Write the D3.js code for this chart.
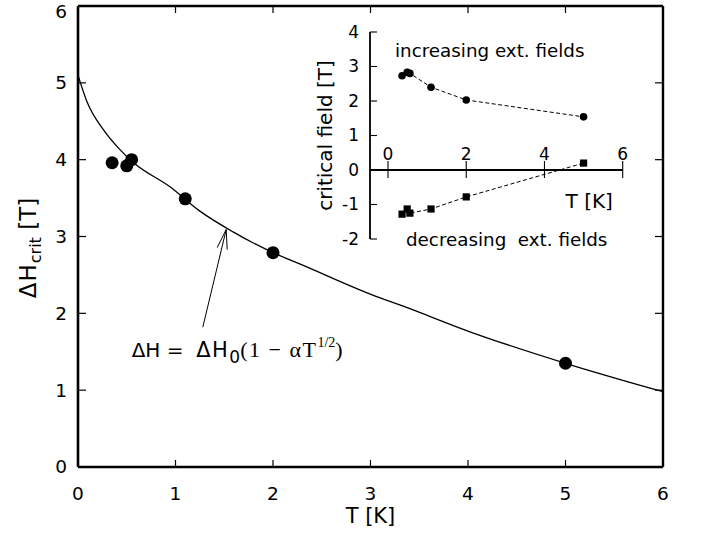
<!DOCTYPE html>
<html>
<head>
<meta charset="utf-8">
<script src="https://cdn.jsdelivr.net/npm/d3@7"></script>
<style>
  body { margin: 0; background: #fff; }
  svg { display: block; }
  .lbl { font-family: "DejaVu Sans", sans-serif; fill: #000; }
  .serif { font-family: "Liberation Serif", "Times New Roman", serif; }
</style>
</head>
<body>
<svg id="chart" width="701" height="539"></svg>
<script>

// Main panel: measured critical field difference
var mainT  = [0.35, 0.50, 0.55, 1.10, 2.00, 5.00];
var mainDH = [3.96, 3.92, 4.00, 3.49, 2.79, 1.35];

// Fit curve dH = dH0 (1 - a T^1/2)
var fitT  = [0, 0.09, 0.26, 0.43, 0.58, 0.94, 1.25, 1.59, 2.00, 2.28, 3.10, 3.30, 4.02, 5.00, 6.00];
var fitDH = [5.10, 4.76, 4.39, 4.13, 3.95, 3.65, 3.33, 3.06, 2.79, 2.64, 2.20, 2.11, 1.76, 1.35, 0.98];

// Inset: critical fields for increasing / decreasing external fields
var insetT    = [0.36, 0.49, 0.56, 1.10, 2.00, 5.00];
var insetUp   = [2.73, 2.83, 2.80, 2.40, 2.03, 1.54];
var insetDown = [-1.28, -1.13, -1.25, -1.13, -0.78, 0.20];

// Tick values
var mainTicks   = [0, 1, 2, 3, 4, 5, 6];
var insetXTicks = [0, 2, 4, 6];
var insetYTicks = [-2, -1, 0, 1, 2, 3, 4];

(function(d3) {

  var svg = d3.select("#chart");

  // Scales
  var x = d3.scaleLinear().domain([0, 6]).range([78, 663]);
  var y = d3.scaleLinear().domain([0, 6]).range([467, 6]);

  var ix = d3.scaleLinear().domain([0, 6]).range([388, 622.7]);
  var iy = d3.scaleLinear().domain([-2, 4]).range([239, 32]);
  var insetAxisX = 370;

  var simpleLine = d3.line();

  function seg(p, w) {
    return svg.append("path")
      .attr("d", simpleLine(p))
      .attr("fill", "none")
      .attr("stroke", "#000")
      .attr("stroke-width", w)
      ;
  }

  //** Main frame and ticks **//

  seg([[x(0), y(0)], [x(6), y(0)]], 2.6);
  seg([[x(0), y(0)], [x(0), y(6)]], 2.6);
  seg([[x(0), y(6)], [x(6), y(6)]], 2.4);
  seg([[x(6), y(6)], [x(6), y(0)]], 2.4);

  mainTicks.slice(1, 6).forEach(function(t) {
    seg([[x(0), y(t)], [x(0) + 8, y(t)]], 1.2);
    seg([[x(6), y(t)], [x(6) - 8, y(t)]], 1.2);
    seg([[x(t), y(0)], [x(t), y(0) - 7]], 1.2);
    seg([[x(t), y(6)], [x(t), y(6) + 7]], 1.2);
  });

  // Tick labels
  svg.selectAll("text.ytick")
    .data(mainTicks)
    .enter().append("text")
    .attr("class", "lbl ytick")
    .attr("x", x(0) - 11)
    .attr("y", function(d) { return y(d); })
    // top label nudged down so it stays inside the picture
    .attr("dy", function(d) { return d === 6 ? "0.64em" : "0.35em"; })
    .attr("text-anchor", "end")
    .attr("font-size", 18.5)
    .text(function(d) { return d; })
    ;

  svg.selectAll("text.xtick")
    .data(mainTicks)
    .enter().append("text")
    .attr("class", "lbl xtick")
    .attr("x", function(d) { return x(d); })
    .attr("y", y(0) + 33)
    .attr("text-anchor", "middle")
    .attr("font-size", 18.5)
    .text(function(d) { return d; })
    ;

  // Axis titles
  svg.append("text")
    .attr("class", "lbl")
    .attr("x", x(3))
    .attr("y", 523)
    .attr("text-anchor", "middle")
    .attr("font-size", 21)
    .text("T [K]")
    ;

  var ylab = svg.append("text")
    .attr("class", "lbl")
    .attr("transform", "translate(36," + y(2.85) + ") rotate(-90)")
    .attr("text-anchor", "middle")
    .attr("font-size", 23)
    ;
  ylab.append("tspan").attr("letter-spacing", 1).text("ΔH");
  ylab.append("tspan").attr("font-size", 16).attr("dy", 5).text("crit");
  ylab.append("tspan").attr("dy", -5).text(" [T]");

  //** Main marks **//

  var fitLine = d3.line()
    .curve(d3.curveMonotoneX)
    .x(function(d) { return x(d[0]); })
    .y(function(d) { return y(d[1]); })
    ;

  svg.append("path")
    .datum(d3.zip(fitT, fitDH))
    .attr("fill", "none")
    .attr("stroke", "#000")
    .attr("stroke-width", 1.3)
    .attr("d", fitLine)
    ;

  svg.selectAll("circle.main")
    .data(d3.zip(mainT, mainDH))
    .enter().append("circle")
    .attr("class", "main")
    .attr("cx", function(d) { return x(d[0]); })
    .attr("cy", function(d) { return y(d[1]); })
    .attr("r", 6.5)
    .attr("fill", "#000")
    ;

  // Arrow pointing at the fit curve
  var tail = [1.28, 1.82], tip = [1.52, 3.09];
  seg([[x(tail[0]), y(tail[1])], [x(tip[0]), y(tip[1])]], 1);
  seg([[x(tip[0]) - 9, y(tip[1]) + 18], [x(tip[0]), y(tip[1])], [x(tip[0]) + 1, y(tip[1]) + 20]], 1);

  // Formula
  var f = svg.append("text")
    .attr("class", "lbl")
    .attr("x", x(0.55))
    .attr("y", y(1.43))
    .attr("font-size", 20)
    .attr("xml:space", "preserve")
    .style("white-space", "pre")
    ;
  f.append("tspan").text("ΔH =  ");
  f.append("tspan").attr("font-size", 21).attr("letter-spacing", 1.5).text("ΔH");
  f.append("tspan").attr("font-size", 17).attr("dy", 6).text("0");
  f.append("tspan").attr("class", "serif").attr("font-size", 22).attr("letter-spacing", 1.5)
    .attr("dy", -6).text("(1 − αT");
  f.append("tspan").attr("class", "serif").attr("font-size", 14).attr("dy", -10).text("1/2");
  f.append("tspan").attr("class", "serif").attr("font-size", 22).attr("dy", 10).text(")");

  //** Inset axes **//

  seg([[insetAxisX, iy(-2)], [insetAxisX, iy(4)]], 1.8);
  seg([[insetAxisX, iy(0)], [ix(6), iy(0)]], 1.8);

  insetYTicks.forEach(function(t) {
    seg([[insetAxisX, iy(t)], [insetAxisX + 7, iy(t)]], 1.1);
  });
  insetXTicks.forEach(function(t) {
    seg([[ix(t), iy(0) - 9], [ix(t), iy(0) + 8]], 1.1);
  });

  svg.selectAll("text.iytick")
    .data(insetYTicks)
    .enter().append("text")
    .attr("class", "lbl iytick")
    .attr("x", insetAxisX - 11)
    .attr("y", function(d) { return iy(d); })
    .attr("dy", "0.35em")
    .attr("text-anchor", "end")
    .attr("font-size", 17)
    .text(function(d) { return String(d); })
    ;

  svg.selectAll("text.ixtick")
    .data(insetXTicks)
    .enter().append("text")
    .attr("class", "lbl ixtick")
    .attr("x", function(d) { return ix(d); })
    .attr("y", iy(0) - 10)
    .attr("text-anchor", "middle")
    .attr("font-size", 17)
    .text(function(d) { return d; })
    ;

  svg.append("text")
    .attr("class", "lbl")
    .attr("transform", "translate(332," + iy(1) + ") rotate(-90)")
    .attr("text-anchor", "middle")
    .attr("font-size", 20)
    .text("critical field [T]")
    ;

  svg.append("text")
    .attr("class", "lbl")
    .attr("x", ix(4.54))
    .attr("y", iy(-1.1))
    .attr("font-size", 20)
    .text("T [K]")
    ;

  svg.append("text")
    .attr("class", "lbl")
    .attr("x", ix(0.18))
    .attr("y", iy(3.28))
    .attr("font-size", 18.3)
    .text("increasing ext. fields")
    ;

  svg.append("text")
    .attr("class", "lbl")
    .attr("x", ix(0.46))
    .attr("y", iy(-2.2))
    .attr("font-size", 18.3)
    .attr("xml:space", "preserve")
    .style("white-space", "pre")
    .text("decreasing  ext. fields")
    ;

  //** Inset marks **//

  var insetLine = d3.line()
    .x(function(d, i) { return ix(insetT[i]); })
    .y(function(d) { return iy(d); })
    ;

  [insetUp, insetDown].forEach(function(vals) {
    svg.append("path")
      .attr("d", insetLine(vals))
      .attr("fill", "none")
      .attr("stroke", "#000")
      .attr("stroke-dasharray", "4,2.5")
      ;
  });

  svg.selectAll("circle.up")
    .data(insetUp)
    .enter().append("circle")
    .attr("class", "up")
    .attr("cx", function(d, i) { return ix(insetT[i]); })
    .attr("cy", function(d) { return iy(d); })
    .attr("r", 3.8)
    .attr("fill", "#000")
    ;

  svg.selectAll("rect.down")
    .data(insetDown)
    .enter().append("rect")
    .attr("class", "down")
    .attr("x", function(d, i) { return ix(insetT[i]) - 3.6; })
    .attr("y", function(d) { return iy(d) - 3.6; })
    .attr("width", 7.2)
    .attr("height", 7.2)
    .attr("fill", "#000")
    ;

})(d3);
</script>
</body>
</html>
